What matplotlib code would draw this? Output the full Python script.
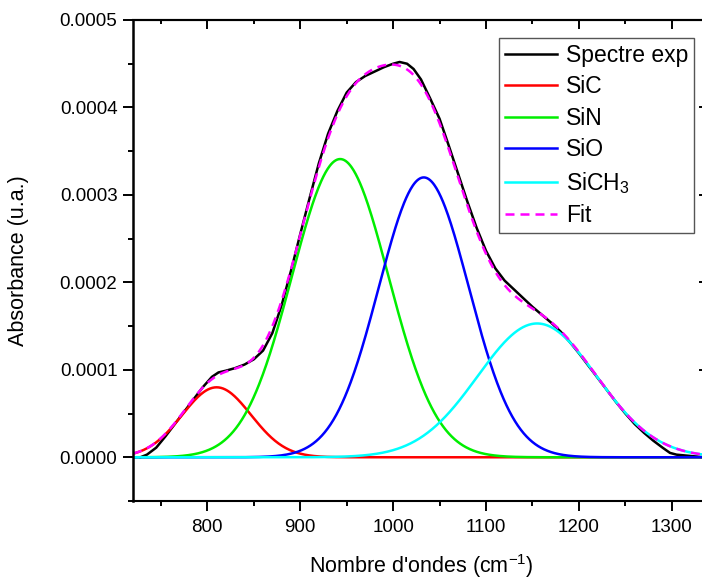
import numpy as np
import matplotlib
matplotlib.use("Agg")
import matplotlib.pyplot as plt
import matplotlib.ticker as tck

plt.rcParams['font.family'] = ['Liberation Sans', 'DejaVu Sans']
plt.rcParams['mathtext.default'] = 'regular'

exp_x = [728, 735, 745, 755, 765, 775, 785, 795, 805, 812, 820, 830, 840, 850,
         860, 870, 880, 890, 900, 910, 920, 930, 940, 950, 960, 970, 980, 990,
         1000, 1007, 1015, 1022, 1030, 1040, 1050, 1060, 1070, 1080, 1090, 1100,
         1110, 1120, 1130, 1140, 1150, 1160, 1170, 1180, 1190, 1200, 1210, 1220,
         1230, 1240, 1250, 1260, 1270, 1280, 1290, 1298, 1305, 1315, 1325, 1335]
exp_y = [0.00, 0.03, 0.11, 0.24, 0.38, 0.52, 0.66, 0.80, 0.92, 0.97, 0.99, 1.02,
         1.06, 1.12, 1.22, 1.42, 1.74, 2.13, 2.55, 2.96, 3.36, 3.70, 3.96, 4.17,
         4.29, 4.36, 4.41, 4.46, 4.50, 4.52, 4.50, 4.44, 4.32, 4.10, 3.87, 3.56,
         3.24, 2.92, 2.62, 2.36, 2.16, 2.02, 1.92, 1.82, 1.72, 1.63, 1.54, 1.44,
         1.32, 1.19, 1.05, 0.91, 0.77, 0.63, 0.50, 0.38, 0.28, 0.19, 0.11, 0.05,
         0.03, 0.02, 0.01, 0.00]

# gaussian components of the fit
names = ['SiC', 'SiN', 'SiO', 'SiCH$_3$']
centers = [810, 943, 1033, 1155]
amps = [0.80, 3.41, 3.20, 1.53]     # 1e-4 u.a.
sigmas = [37, 52, 48.5, 64]
colors = ['#ff0000', '#00ee00', '#0000ff', '#00ffff']

x = np.linspace(720, 1340, 800)
comps = [a * 1e-4 * np.exp(-(x - c) ** 2 / (2 * s ** 2))
         for c, a, s in zip(centers, amps, sigmas)]
fit = np.sum(comps, axis=0)

fig = plt.figure(figsize=(7.02, 5.81), dpi=100)
ax = fig.add_axes([133 / 702, 1 - 501 / 581, 576 / 702, 481 / 581])

ax.plot(exp_x, np.array(exp_y) * 1e-4, color='black', lw=1.8, label='Spectre exp')
for y, n, col in zip(comps, names, colors):
    ax.plot(x, y, color=col, lw=1.8, label=n)
ax.plot(x, fit, color='#ff00ff', lw=1.8, ls=(0, (3.6, 2.4)), label='Fit')

ax.set_xlim(720, 1340)
ax.set_ylim(-0.00005, 0.0005)
ax.xaxis.set_major_locator(tck.MultipleLocator(100))
ax.xaxis.set_minor_locator(tck.MultipleLocator(50))
ax.yaxis.set_major_locator(tck.MultipleLocator(0.0001))
ax.yaxis.set_minor_locator(tck.MultipleLocator(0.00005))
ax.yaxis.set_major_formatter(tck.FormatStrFormatter('%.4f'))

ax.tick_params(which='major', direction='out', length=7.2, width=1.4, labelsize=13.5)
ax.tick_params(which='minor', direction='out', length=3.6, width=1.4)
ax.tick_params(axis='x', pad=5.5)
ax.tick_params(axis='y', pad=4)
for sp in ax.spines.values():
    sp.set_linewidth(1.5)
ax.spines['left'].set_linewidth(1.8)

top = ax.secondary_xaxis('top')
top.xaxis.set_major_locator(tck.MultipleLocator(100))
top.xaxis.set_minor_locator(tck.MultipleLocator(50))
top.tick_params(which='major', direction='in', length=6.5, width=1.4, labeltop=False)
top.tick_params(which='minor', direction='in', length=3, width=1.4)
top.spines['top'].set_linewidth(1.5)

right = ax.secondary_yaxis('right')
right.yaxis.set_major_locator(tck.MultipleLocator(0.0001))
right.yaxis.set_minor_locator(tck.MultipleLocator(0.00005))
right.tick_params(which='major', direction='in', length=7.5, width=1.4, labelright=False)
right.tick_params(which='minor', direction='in', length=3, width=1.4)

ax.set_xlabel("Nombre d'ondes (cm$^{-1}$)", fontsize=15.5)
ax.set_ylabel('Absorbance (u.a.)', fontsize=15.5)
ax.xaxis.set_label_coords(0.5, -0.106)
ax.yaxis.set_label_coords(-0.18, 0.5)

leg = ax.legend(loc='upper right', bbox_to_anchor=(694 / 702, 1 - 38 / 581),
                bbox_transform=fig.transFigure, borderaxespad=0,
                fontsize=16.5, frameon=True, fancybox=False, framealpha=1,
                edgecolor='#555555', handlelength=2.25, handletextpad=0.4,
                labelspacing=0.37, borderpad=0.25)
leg.get_frame().set_linewidth(1.0)

fig.savefig('out.png', dpi=100)
